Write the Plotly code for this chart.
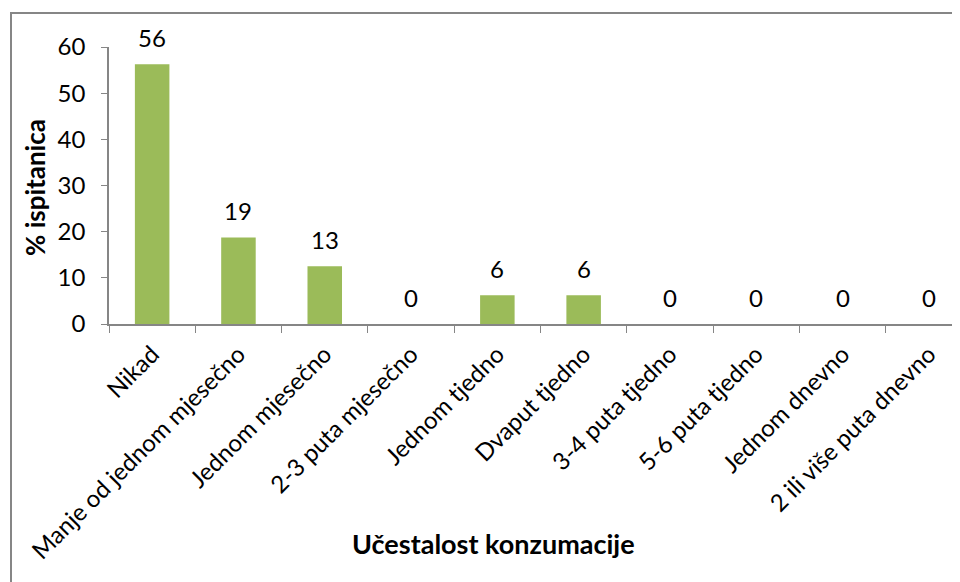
import plotly.graph_objects as go

categories = ["Nikad", "Manje od jednom mjesečno", "Jednom mjesečno", "2-3 puta mjesečno",
              "Jednom tjedno", "Dvaput tjedno", "3-4 puta tjedno", "5-6 puta tjedno",
              "Jednom dnevno", "2 ili više puta dnevno"]
values = [56.25, 18.75, 12.5, 0, 6.25, 6.25, 0, 0, 0, 0]
value_labels = ["56", "19", "13", "0", "6", "6", "0", "0", "0", "0"]
y_title = "% ispitanica"
x_title = "Učestalost konzumacije"

# the page body has an 8px margin; compensate so the chart lands where the reference has it
OFF = 8
W, H = 960 - OFF, 582 - OFF
L, T, R = 109 - OFF, 47 - OFF, 0
B = H - (324 - OFF)
pw = W - L - R
ph = H - T - B
cat_px = 86.3

def px_x(p):
    return (p - OFF - L) / pw

def px_y(p):
    return (H - B - (p - OFF)) / ph

FONT = "Lato"
fig = go.Figure()
fig.add_trace(go.Bar(x=categories, y=values, marker_color="#9BBB59",
                     marker_line_width=0, width=0.4, hoverinfo="skip"))

annotations = []
for c, v, t in zip(categories, values, value_labels):
    annotations.append(dict(x=c, y=v, xref="x", yref="y", text=t, showarrow=False,
                            yanchor="middle", yshift=27,
                            font=dict(family=FONT, size=24, color="#000000")))
annotations.append(dict(x=px_x(493), y=px_y(543), xref="paper", yref="paper",
                        text="<b>" + x_title + "</b>", showarrow=False,
                        xanchor="center", yanchor="middle",
                        font=dict(family=FONT, size=27, color="#000000")))
annotations.append(dict(x=px_x(35), y=px_y(188), xref="paper", yref="paper",
                        text="<b>" + y_title + "</b>", showarrow=False, textangle=-90,
                        xanchor="center", yanchor="middle",
                        font=dict(family=FONT, size=26, color="#000000")))

fig.update_layout(
    width=W, height=H,
    margin=dict(l=L, r=R, t=T, b=B, pad=0),
    paper_bgcolor="white", plot_bgcolor="white",
    showlegend=False,
    annotations=annotations,
    shapes=[dict(type="rect", xref="paper", yref="paper",
                 x0=px_x(11), x1=px_x(1000), y0=px_y(600), y1=px_y(13),
                 line=dict(color="#868686", width=2), fillcolor="rgba(0,0,0,0)",
                 layer="below")],
    xaxis=dict(
        type="category",
        range=[-0.5, -0.5 + pw / cat_px],
        showgrid=False, showline=True, linecolor="#868686", linewidth=1.5,
        ticks="outside", tickson="boundaries", ticklen=7, tickcolor="#868686", tickwidth=1,
        tickangle=-45, ticklabelstandoff=5,
        tickfont=dict(family=FONT, size=24, color="#000000"),
        zeroline=False, fixedrange=True,
    ),
    yaxis=dict(
        range=[0, 60], dtick=10, tick0=0,
        showgrid=False, showline=True, linecolor="#868686", linewidth=1.5,
        ticks="outside", ticklen=6, tickcolor="#868686", tickwidth=1,
        ticklabelstandoff=11,
        tickfont=dict(family=FONT, size=24, color="#000000"),
        zeroline=False,
        fixedrange=True,
    ),
)

fig.write_html("out.html", config={"displayModeBar": False})
